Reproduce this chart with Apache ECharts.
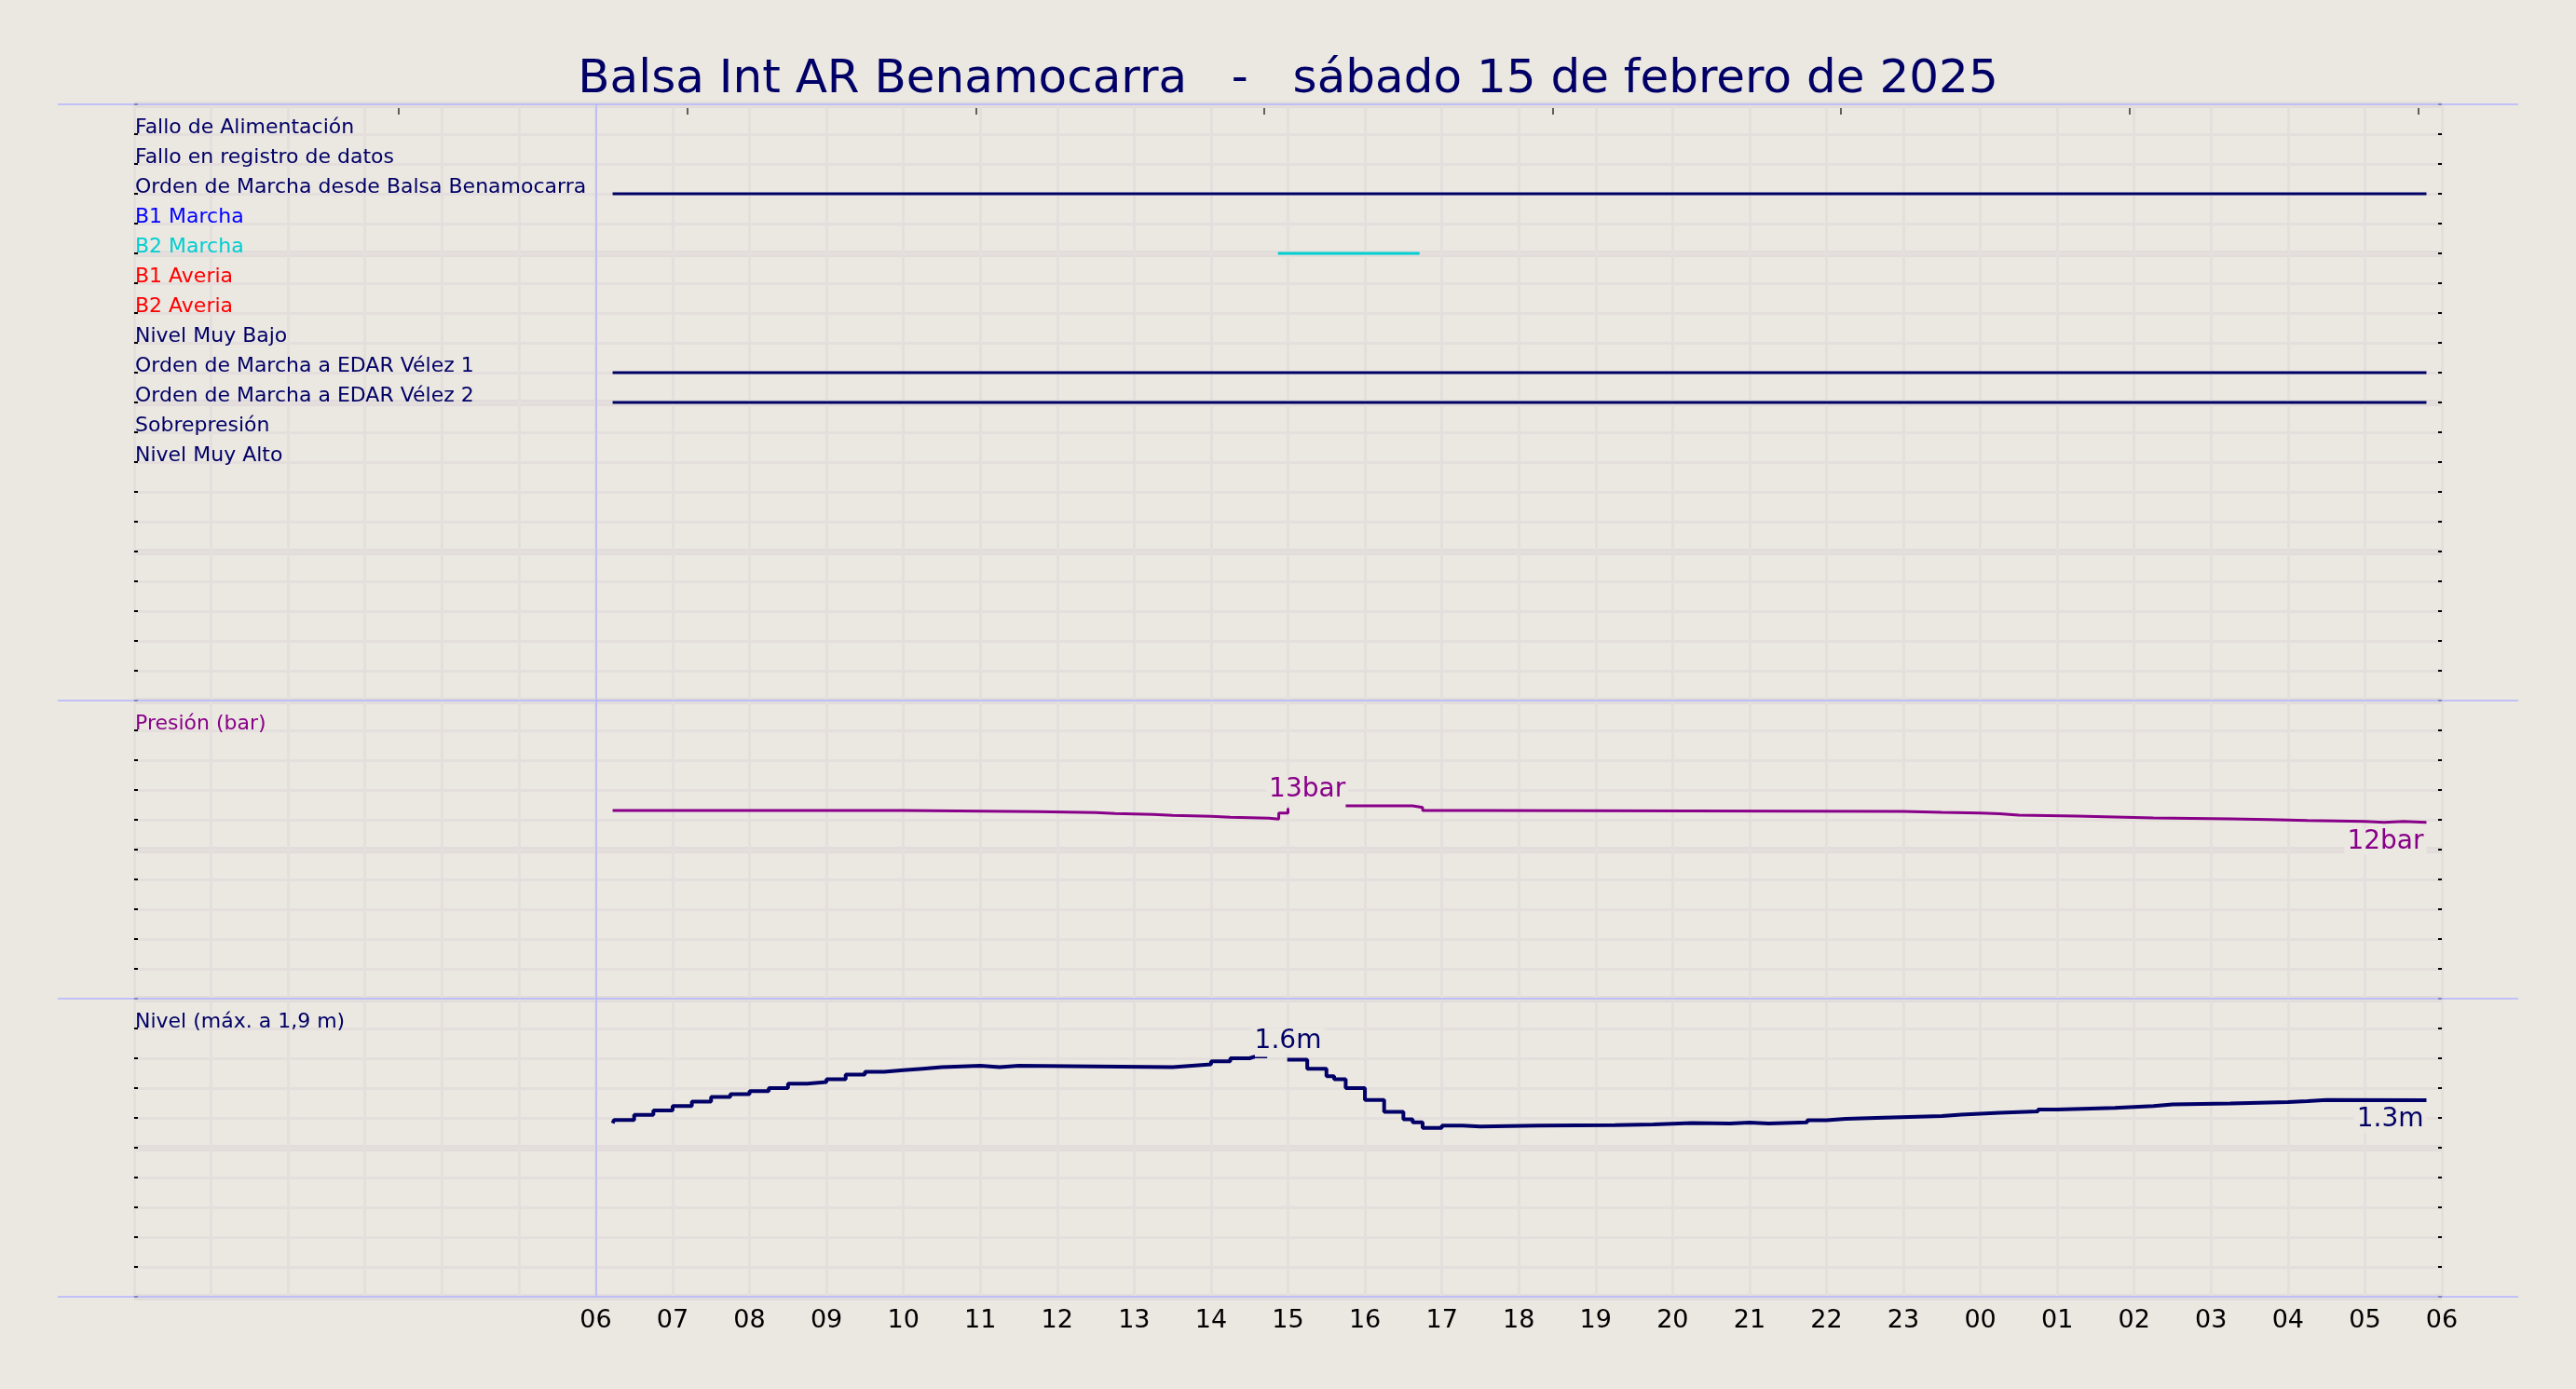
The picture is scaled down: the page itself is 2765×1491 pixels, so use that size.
<!DOCTYPE html>
<html>
<head>
<meta charset="utf-8">
<title>Balsa Int AR Benamocarra</title>
<script src="https://cdn.jsdelivr.net/npm/echarts@6/dist/echarts.min.js"></script>
<style>
  html, body { margin: 0; padding: 0; background: #ebe7e1; }
  #chart { width: 2765px; height: 1491px; }
</style>
</head>
<body>
<div id="chart"></div>
<script>
// hours are counted from 00:00 on sat 15 feb 2025 (axis runs 00h -> 06h next day)
var hourLabels = ['06', '07', '08', '09', '10', '11', '12', '13', '14', '15', '16', '17',
  '18', '19', '20', '21', '22', '23', '00', '01', '02', '03', '04', '05', '06']

var signalNames = [
  'Fallo de Alimentación',
  'Fallo en registro de datos',
  'Orden de Marcha desde Balsa Benamocarra',
  'B1 Marcha',
  'B2 Marcha',
  'B1 Averia',
  'B2 Averia',
  'Nivel Muy Bajo',
  'Orden de Marcha a EDAR Vélez 1',
  'Orden de Marcha a EDAR Vélez 2',
  'Sobrepresión',
  'Nivel Muy Alto'
]
// [start, end] in hours for each signal while it is on
var signalOn = [
  [], [], [[6.22, 29.8]], [], [[14.87, 16.71]], [], [], [], [[6.22, 29.8]], [[6.22, 29.8]], [], []
]

var presHours = [6.22, 10.0, 11.75, 12.5, 12.75, 13.25, 13.5, 14.0, 14.25, 14.75, 14.88, 15.0, 15.01,
  15.75, 16.62, 16.75, 17.5, 23.0, 23.5, 24.0, 24.25, 24.5, 25.25, 25.75, 26.25, 27.25, 27.75,
  28.25, 29.0, 29.25, 29.5, 29.8]
var presBar = [12.63, 12.55, 12.48, 12.42, 12.36, 12.29, 12.23, 12.17, 12.11, 12.04, 12.46, 12.73, null,
  12.94, 12.83, 12.63, 12.56, 12.50, 12.46, 12.40, 12.31, 12.25, 12.19, 12.12, 12.07, 12.01, 11.95,
  11.89, 11.83, 11.89, 11.83, 11.83]

var nivelHours = [6.22, 6.24, 6.5, 6.75, 7.0, 7.25, 7.5, 7.75, 8.0, 8.25, 8.5, 8.75, 9.0, 9.25, 9.5,
  9.75, 10.0, 10.25, 10.5, 11.0, 11.25, 11.5, 13.5, 13.75, 14.0, 14.25, 14.5, 14.56, 14.57,
  14.99, 15.25, 15.5, 15.6, 15.75, 16.0, 16.25, 16.5, 16.62, 16.75, 17.0, 17.27, 17.5, 18.25,
  19.25, 19.75, 20.25, 20.75, 21.0, 21.25, 21.75, 22.0, 22.25, 22.75, 23.5, 23.75, 24.25, 24.75,
  25.0, 25.75, 26.25, 26.5, 27.25, 28.0, 28.25, 28.5, 29.8]
var nivelM = [1.165, 1.186, 1.22, 1.25, 1.28, 1.31, 1.34, 1.36, 1.38, 1.40, 1.43, 1.44, 1.46, 1.49, 1.51,
  1.52, 1.53, 1.54, 1.55, 1.54, 1.55, 1.54, 1.55, 1.56, 1.58, 1.60, 1.61, 1.61, null,
  1.59, 1.53, 1.48, 1.46, 1.40, 1.32, 1.24, 1.19, 1.17, 1.133, 1.148, 1.142, 1.148, 1.151,
  1.156, 1.165, 1.163, 1.169, 1.163, 1.171, 1.184, 1.193, 1.201, 1.213, 1.222, 1.234, 1.243, 1.256,
  1.267, 1.279, 1.291, 1.297, 1.306, 1.312, 1.321, 1.318, 1.318]
// short thin stretch drawn inside the level gap
var nivelGapHours = [14.56, 14.73]
var nivelGapM = [1.605, 1.605]

// hour where the max-value notes sit: [pressure, level]
var peakNoteHours = [15.25, 15.0]
// small ticks along the top edge
var topTickHours = [3.44, 7.19, 10.94, 14.69, 18.44, 22.19, 25.94, 29.69]

var font = 'DejaVu Sans'
var bg = '#ebe7e1'
var navy = '#000066'
var purple = '#880088'
var gridC = '#e4dfdc'
var gridMajor = '#e1dcda'
var sepC = '#b3b5ff'
var signalColors = [navy, navy, navy, '#0000ff', '#00ced1', '#ff0000', '#ff0000', navy, navy, navy, navy, navy]

var gLeft = 144, gWidth = 2477
var gTop = [112, 752, 1072], gHeight = [640, 320, 320]

function pairs (xs, ys) {
  return xs.map(function (x, i) { return [x, ys[i] === null ? '-' : ys[i]] })
}
function lastVal (ys) {
  for (var i = ys.length - 1; i >= 0; i--) if (ys[i] !== null) return ys[i]
}
function maxVal (ys) {
  return Math.max.apply(null, ys.filter(function (v) { return v !== null }))
}

var grids = gTop.map(function (t, i) {
  return { left: gLeft, width: gWidth, top: t, height: gHeight[i], containLabel: false }
})

var xAxes = [0, 1, 2].map(function (g) {
  return {
    type: 'value', gridIndex: g, min: 0, max: 30, interval: 1, position: 'bottom',
    axisLine: { show: false, onZero: false },
    axisTick: { show: false },
    axisLabel: g === 2 ? {
      show: true, margin: 12, color: '#000', fontSize: 27, fontFamily: font,
      formatter: function (v) { return v >= 6 ? hourLabels[v - 6] : '' }
    } : { show: false },
    splitLine: { show: true, lineStyle: { color: gridC, width: 3 } }
  }
})
xAxes.push({
  type: 'value', gridIndex: 0, min: 0, max: 30, position: 'top', offset: -4,
  axisLine: { show: false, onZero: false },
  axisLabel: { show: false },
  splitLine: { show: false },
  axisTick: { show: true, inside: true, length: 7, customValues: topTickHours, lineStyle: { color: '#333', width: 1.5 } }
})

function yAxesFor (g, min, max, step, major, inverse, labelFn, colorFn) {
  return [{
    type: 'value', gridIndex: g, min: min, max: max, interval: major, inverse: inverse, position: 'left',
    axisLine: { show: false, onZero: false },
    axisTick: { show: false },
    axisLabel: { show: false },
    splitLine: { show: true, lineStyle: { color: gridMajor, width: 7 } }
  }, {
    type: 'value', gridIndex: g, min: min, max: max, interval: step, inverse: inverse, position: 'left',
    axisLine: { show: false, onZero: false },
    axisTick: { show: true, inside: true, length: 4, lineStyle: { color: '#000', width: 2 } },
    axisLabel: {
      show: true, inside: true, margin: 1, fontSize: 22, fontFamily: font,
      verticalAlign: 'bottom', lineHeight: 14, formatter: labelFn, color: colorFn
    },
    splitLine: { show: true, lineStyle: { color: gridC, width: 3 } }
  }, {
    type: 'value', gridIndex: g, min: min, max: max, interval: step, inverse: inverse, position: 'right',
    axisLine: { show: false, onZero: false },
    axisTick: { show: true, inside: true, length: 4, lineStyle: { color: '#000', width: 2 } },
    axisLabel: { show: false },
    splitLine: { show: false }
  }]
}

var yAxes = [].concat(
  yAxesFor(0, 0, 20, 1, 5, true,
    function (v) { return signalNames[v - 1] || '' },
    function (v) { return signalColors[v - 1] || navy }),
  yAxesFor(1, 0, 20, 2, 10, false,
    function (v) { return v === 18 ? 'Presión (bar)' : '' },
    function () { return purple }),
  yAxesFor(2, 0, 2, 0.2, 1, false,
    function (v) { return Math.abs(v - 1.8) < 1e-6 ? 'Nivel (máx. a 1,9 m)' : '' },
    function () { return navy })
)

var sixLine = {
  silent: true, symbol: 'none', label: { show: false },
  lineStyle: { color: sepC, width: 1.5, type: 'solid' },
  data: [{ xAxis: 6 }]
}

function note (coord, text, color, position, offset) {
  return {
    coord: coord, symbol: 'circle', symbolSize: 0,
    label: {
      show: true, position: position, distance: position === 'top' ? 3 : 0, offset: offset || [0, 0],
      formatter: text, color: color, fontSize: 28, fontFamily: font,
      backgroundColor: bg, padding: [0, 3]
    }
  }
}

var series = []
var firstDone = false
signalOn.forEach(function (ivs, k) {
  ivs.forEach(function (iv) {
    var s = {
      type: 'line', xAxisIndex: 0, yAxisIndex: 1, symbol: 'none', silent: true, z: 5,
      lineStyle: { color: signalColors[k], width: 3 },
      data: [[iv[0], k + 1], [iv[1], k + 1]]
    }
    if (!firstDone) { s.markLine = sixLine; firstDone = true }
    series.push(s)
  })
})

var presMax = maxVal(presBar), presLast = lastVal(presBar)
series.push({
  type: 'line', xAxisIndex: 1, yAxisIndex: 4, symbol: 'none', step: 'end', silent: true, z: 5,
  lineStyle: { color: purple, width: 3 },
  data: pairs(presHours, presBar),
  markLine: sixLine,
  markPoint: {
    silent: true,
    data: [
      note([peakNoteHours[0], presMax], Math.round(presMax) + 'bar', purple, 'top'),
      note([presHours[presHours.length - 1], presLast], Math.round(presLast) + 'bar', purple, 'left', [0, 21])
    ]
  }
})

var nivelMax = maxVal(nivelM), nivelLast = lastVal(nivelM)
series.push({
  type: 'line', xAxisIndex: 2, yAxisIndex: 7, symbol: 'none', step: 'end', silent: true, z: 5,
  lineStyle: { color: navy, width: 4 },
  data: pairs(nivelHours, nivelM),
  markLine: sixLine,
  markPoint: {
    silent: true,
    data: [
      note([peakNoteHours[1], nivelMax], nivelMax.toFixed(1) + 'm', navy, 'top'),
      note([nivelHours[nivelHours.length - 1], nivelLast], nivelLast.toFixed(1) + 'm', navy, 'left', [0, 21])
    ]
  }
})
series.push({
  type: 'line', xAxisIndex: 2, yAxisIndex: 7, symbol: 'none', silent: true, z: 4,
  lineStyle: { color: navy, width: 1.5 },
  data: pairs(nivelGapHours, nivelGapM)
})

// thin separators across the whole figure width
var sepYs = [gTop[0], gTop[1], gTop[2], gTop[2] + gHeight[2]]
var graphic = sepYs.map(function (y) {
  return {
    type: 'line', silent: true, z: 100,
    shape: { x1: 62, y1: y, x2: 2703, y2: y },
    style: { stroke: sepC, lineWidth: 1.5 }
  }
})

var option = {
  backgroundColor: bg,
  animation: false,
  title: {
    text: 'Balsa Int AR Benamocarra   -   sábado 15 de febrero de 2025',
    left: 'center', top: 56,
    textStyle: { fontFamily: font, fontSize: 50, fontWeight: 'normal', color: navy }
  },
  grid: grids,
  xAxis: xAxes,
  yAxis: yAxes,
  series: series,
  graphic: graphic
}

var myChart = echarts.init(document.getElementById('chart'), null, { renderer: 'canvas' })
myChart.setOption(option)
</script>
</body>
</html>
